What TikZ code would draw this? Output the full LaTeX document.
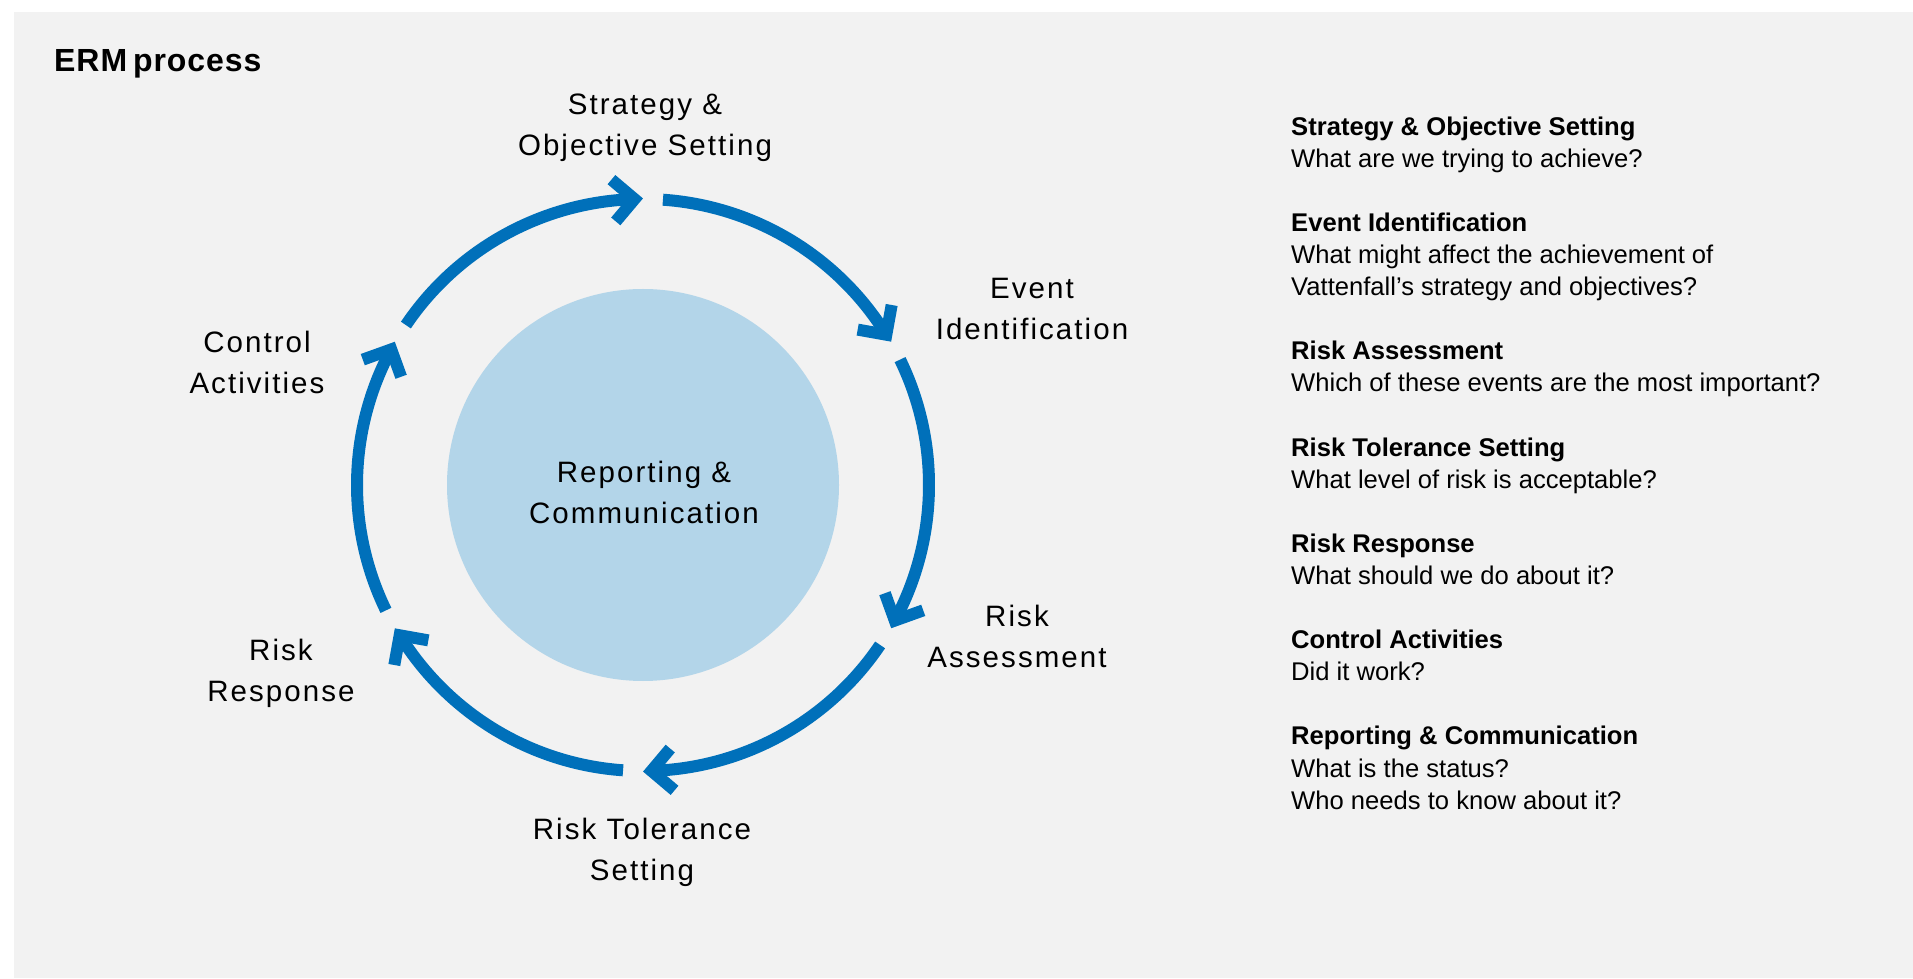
\documentclass[tikz,border=0pt]{standalone}
\usepackage{fontspec}
\setmainfont{Liberation Sans}
\newfontfamily\lblfont[LetterSpace=7]{Liberation Sans}
\newfontfamily\ttlfont[LetterSpace=3]{Liberation Sans}
\definecolor{ringblue}{HTML}{0070BA}
\definecolor{coreblue}{HTML}{B3D5E9}
\definecolor{panelgrey}{HTML}{F2F2F2}
\begin{document}
\begin{tikzpicture}[x=1pt,y=1pt,
  ring/.style={draw=ringblue, line width=12pt, line cap=butt},
  chev/.style={ring, line join=miter},
  lbl/.style={font=\lblfont\fontsize{29.5pt}{41pt}\selectfont, align=center, text depth=0pt, inner sep=0pt},
  desc/.style={font=\fontsize{25.6pt}{32.1pt}\selectfont, align=left, inner sep=0pt},
  ttl/.style={font=\ttlfont\bfseries\fontsize{32pt}{36pt}\selectfont, inner sep=0pt}]
\useasboundingbox (0,0) rectangle (1913,978);
\fill[white] (0,0) rectangle (1913,978);
\fill[panelgrey] (14,0) rectangle (1913,966);

\node[ttl, anchor=base west] (title) at (54,906.3) {ERM\hspace{-4pt} process};

\coordinate (C) at (643,493);
\node[circle, fill=coreblue, minimum size=392pt, inner sep=0pt] (core) at (C) {};
\node[lbl] (report) at (644,486) {Reporting \&\\Communication};

\foreach \a in {90,30,-30,-90,-150,150} {
  \draw[ring] ([shift={(\a+56:286)}]C) arc[start angle=\a+56, end angle=\a+1.7, radius=286];
  \draw[chev] ([shift={(\a+5.9:307)}]C) -- ([shift={(\a+1.7:286)}]C) -- ([shift={(\a+5.9:265)}]C);
}

\node[lbl] (strat) at (645,853) {Strategy \&\\Objective Setting};
\node[lbl] (event) at (1032,669) {Event\\Identification};
\node[lbl] (assess) at (1017,342) {Risk\\Assessment};
\node[lbl] (toler) at (642,129) {Risk Tolerance\\Setting};
\node[lbl] (resp) at (281,308) {Risk\\Response};
\node[lbl] (ctrl) at (257,616) {Control\\Activities};

\node[desc, anchor=north west] (info) at (1291,861.7) {%
\textbf{Strategy \& Objective Setting}\\
What are we trying to achieve?\\[32.1pt]
\textbf{Event Identification}\\
What might affect the achievement of\\
Vattenfall’s strategy and objectives?\\[32.1pt]
\textbf{Risk Assessment}\\
Which of these events are the most important?\\[32.1pt]
\textbf{Risk Tolerance Setting}\\
What level of risk is acceptable?\\[32.1pt]
\textbf{Risk Response}\\
What should we do about it?\\[32.1pt]
\textbf{Control Activities}\\
Did it work?\\[32.1pt]
\textbf{Reporting \& Communication}\\
What is the status?\\
Who needs to know about it?};
\end{tikzpicture}
\end{document}
